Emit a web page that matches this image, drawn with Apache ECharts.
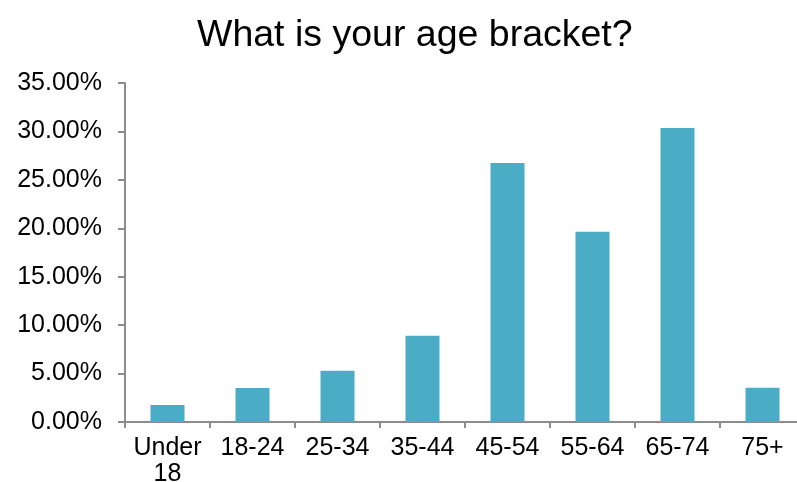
<!DOCTYPE html>
<html>
<head>
<meta charset="utf-8">
<script src="https://cdn.jsdelivr.net/npm/echarts@6/dist/echarts.min.js"></script>
<style>
html,body{margin:0;padding:0;background:#fff;}
#chart{width:797px;height:482px;}
</style>
</head>
<body>
<div id="chart"></div>
<script>
var titleText = 'What is your age bracket?';
var categories = ['Under 18', '18-24', '25-34', '35-44', '45-54', '55-64', '65-74', '75+'];
var values = [1.75, 3.51, 5.30, 8.90, 26.75, 19.64, 30.35, 3.53];
var yTicks = [0, 5, 10, 15, 20, 25, 30, 35];

var font = '"Liberation Sans", Arial, Helvetica, sans-serif';
var chart = echarts.init(document.getElementById('chart'), null, {renderer: 'canvas'});
chart.setOption({
  animation: false,
  title: {
    text: titleText,
    left: 192,
    top: 12,
    textStyle: {fontFamily: font, fontSize: 37.5, fontWeight: 'normal', color: '#000'}
  },
  grid: {left: 125, top: 83, width: 680, height: 339, containLabel: false, outerBoundsMode: 'none'},
  xAxis: {
    type: 'category',
    data: categories,
    axisLine: {lineStyle: {color: '#8c8c8c', width: 2}},
    axisTick: {show: true, length: 6, alignWithLabel: false, lineStyle: {color: '#8c8c8c', width: 2}},
    axisLabel: {
      color: '#000', fontFamily: font, fontSize: 25, margin: 13, lineHeight: 26, interval: 0,
      formatter: function (v) { return v.replace(' ', '\n'); }
    }
  },
  yAxis: {
    type: 'value',
    min: yTicks[0],
    max: yTicks[yTicks.length - 1],
    interval: yTicks[1] - yTicks[0],
    splitLine: {show: false},
    axisLine: {show: true, lineStyle: {color: '#8c8c8c', width: 2}},
    axisTick: {show: true, length: 7, lineStyle: {color: '#8c8c8c', width: 2}},
    axisLabel: {
      color: '#000', fontFamily: font, fontSize: 25, margin: 23,
      formatter: function (v) { return v.toFixed(2) + '%'; }
    }
  },
  series: [{
    type: 'bar',
    data: values,
    barWidth: 34,
    itemStyle: {color: '#4BACC6'}
  }]
});
</script>
</body>
</html>
